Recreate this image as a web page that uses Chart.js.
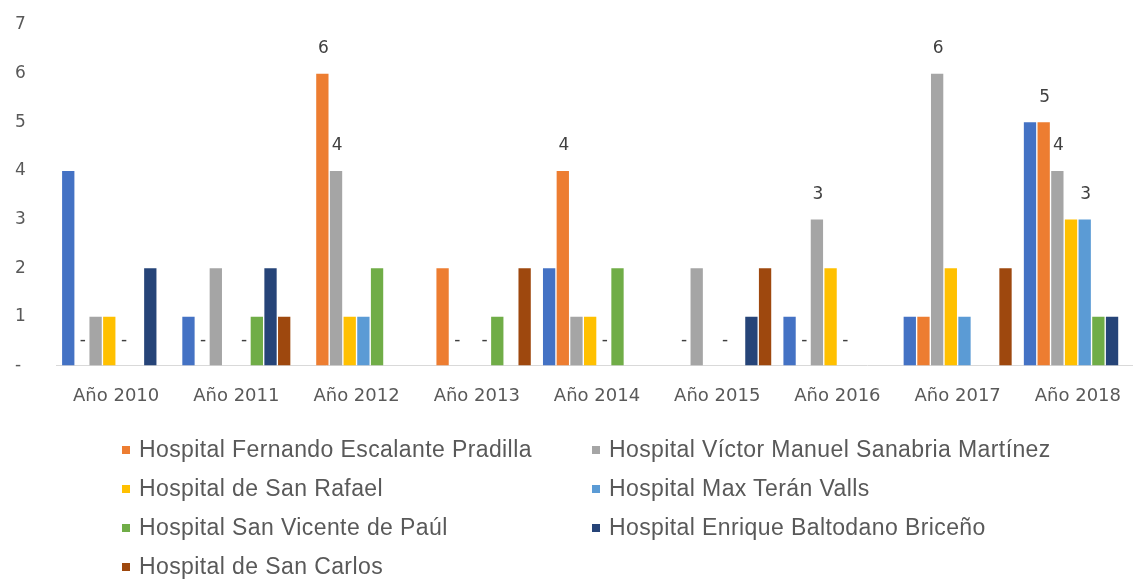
<!DOCTYPE html>
<html>
<head>
<meta charset="utf-8">
<script src="https://cdn.jsdelivr.net/npm/chart.js@4"></script>
<style>
  html, body { margin: 0; padding: 0; background: #fff; }
  #marco { position: relative; width: 1133px; height: 588px; overflow: hidden; }
  #lienzo { position: absolute; left: 0; top: 0; width: 1141px; height: 431px; }
  #leyenda {
    position: absolute; left: 122px; top: 430px;
    display: grid; grid-template-columns: 470px 520px;
    font-family: "Liberation Sans", Arial, sans-serif; font-size: 23px; color: #595959;
  }
  .item { display: flex; align-items: center; height: 39px; white-space: nowrap; letter-spacing: 0.4px; }
  .marca { width: 8px; height: 8px; margin-right: 9px; flex: none; }
</style>
</head>
<body>
<div id="marco">
  <div id="lienzo"><canvas id="grafico"></canvas></div>
  <div id="leyenda"></div>
</div>
<script>
// categorías
const anios = ['Año 2010', 'Año 2011', 'Año 2012', 'Año 2013', 'Año 2014', 'Año 2015', 'Año 2016', 'Año 2017', 'Año 2018'];

// valores por hospital (uno por año)
const serieSinLeyenda = [4, 1, 0, 0, 2, 0, 1, 1, 5];
const fernandoEscalante = [0, 0, 6, 2, 4, 0, 0, 1, 5];
const victorSanabria = [1, 2, 4, 0, 1, 2, 3, 6, 4];
const sanRafael = [1, 0, 1, 0, 1, 0, 2, 2, 3];
const maxTeran = [0, 0, 1, 0, 0, 0, 0, 1, 3];
const sanVicente = [0, 1, 2, 1, 2, 0, 0, 0, 1];
const enriqueBaltodano = [2, 2, 0, 0, 0, 1, 0, 0, 1];
const sanCarlos = [0, 1, 0, 2, 0, 2, 0, 2, 0];

// marcas del eje y
const marcasY = [0, 1, 2, 3, 4, 5, 6, 7];

const fuente = '"DejaVu Sans", sans-serif';

// etiquetas de datos (0 se muestra como "-")
const etiquetasDatos = {
  id: 'etiquetasDatos',
  afterDatasetsDraw(chart) {
    const ctx = chart.ctx;
    ctx.save();
    ctx.font = '17px ' + fuente;
    ctx.fillStyle = '#404040';
    ctx.textAlign = 'center';
    ctx.textBaseline = 'middle';
    chart.data.datasets.forEach((ds, i) => {
      if (!ds.conEtiqueta) return;
      chart.getDatasetMeta(i).data.forEach((barra, j) => {
        const v = ds.data[j];
        if (v !== 0 && v < 3) return;
        ctx.fillText(v === 0 ? '-' : String(v), barra.x + 1, barra.y - 25);
      });
    });
    ctx.restore();
  }
};

// leyenda en html, en dos columnas
const leyendaHtml = {
  id: 'leyendaHtml',
  afterUpdate(chart) {
    const cont = document.getElementById('leyenda');
    cont.innerHTML = '';
    const items = Chart.defaults.plugins.legend.labels.generateLabels(chart)
      .filter(it => !chart.data.datasets[it.datasetIndex].sinLeyenda);
    items.forEach(it => {
      const div = document.createElement('div');
      div.className = 'item';
      const marca = document.createElement('span');
      marca.className = 'marca';
      marca.style.background = it.fillStyle;
      div.appendChild(marca);
      div.appendChild(document.createTextNode(it.text));
      cont.appendChild(div);
    });
  }
};

const ctx = document.getElementById('grafico').getContext('2d');

new Chart(ctx, {
  type: 'bar',
  data: {
    labels: anios,
    datasets: [
      { label: 'Serie 1', data: serieSinLeyenda, backgroundColor: '#4472C4', sinLeyenda: true },
      { label: 'Hospital Fernando Escalante Pradilla', data: fernandoEscalante, backgroundColor: '#ED7D31', conEtiqueta: true },
      { label: 'Hospital Víctor Manuel Sanabria Martínez', data: victorSanabria, backgroundColor: '#A5A5A5', conEtiqueta: true },
      { label: 'Hospital de San Rafael', data: sanRafael, backgroundColor: '#FFC000' },
      { label: 'Hospital Max Terán Valls', data: maxTeran, backgroundColor: '#5B9BD5', conEtiqueta: true },
      { label: 'Hospital San Vicente de Paúl', data: sanVicente, backgroundColor: '#70AD47' },
      { label: 'Hospital Enrique Baltodano Briceño', data: enriqueBaltodano, backgroundColor: '#264478' },
      { label: 'Hospital de San Carlos', data: sanCarlos, backgroundColor: '#9E480E' }
    ]
  },
  options: {
    responsive: true,
    maintainAspectRatio: false,
    animation: false,
    categoryPercentage: 0.91,
    barPercentage: 0.9,
    layout: { padding: { top: 25, left: 15, right: 0, bottom: 4 } },
    scales: {
      x: {
        grid: { display: false, drawTicks: false },
        border: { display: true, color: '#D9D9D9' },
        ticks: { color: '#595959', font: { family: fuente, size: 18 }, padding: 20, maxRotation: 0 }
      },
      y: {
        min: 0,
        max: 7,
        afterBuildTicks: (scale) => { scale.ticks = marcasY.map(v => ({ value: v })); },
        afterFit: (scale) => { scale.width = 41; },
        grid: { display: false, drawTicks: false },
        border: { display: false },
        ticks: {
          color: '#595959',
          font: { family: fuente, size: 17 },
          padding: 2,
          crossAlign: 'far',
          callback: (v) => v === 0 ? '-' : v
        }
      }
    },
    plugins: {
      legend: { display: false },
      tooltip: { enabled: false }
    }
  },
  plugins: [etiquetasDatos, leyendaHtml]
});
</script>
</body>
</html>
